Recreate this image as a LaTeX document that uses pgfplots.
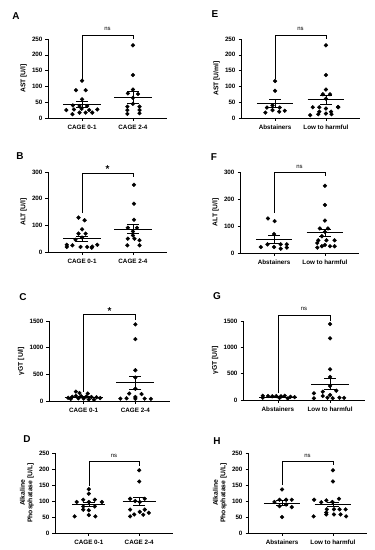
\documentclass[border=0pt]{standalone}
\usepackage{pgfplots}
\pgfplotsset{compat=1.18}
\usepackage{fontspec}
\setmainfont{Liberation Sans}
\tikzset{br/.style={line width=0.5pt, black}}
\pgfplotsset{
  panel/.style={
    scale only axis, anchor=south west,
    xmin=-0.67, xmax=1.67, ymin=0,
    axis x line*=bottom, axis y line*=left,
    axis line style={line width=0.7pt,-},
    tick align=outside, major tick length=2.5bp,
    tick style={black, line width=0.6pt},
    xtick={0,1},
    /pgf/number format/assume math mode=true,
    /pgf/number format/1000 sep={},
    tick label style={font=\fontsize{6.3}{7}\selectfont\bfseries},
    yticklabel style={xshift=0.5bp},
    label style={font=\fontsize{6.8}{7.5}\selectfont\bfseries},
    ylabel style={align=center, yshift=-1.5bp},
    xticklabel style={yshift=-1bp},
    clip=false,
  },
  dots/.style={only marks, mark=*, mark size=1.9bp, black},
  meanl/.style={black, line width=0.55pt},
  sem/.style={black, line width=0.55pt, mark=none, error bars/.cd, y dir=both, y explicit, error mark=-, error mark options={black, line width=0.55pt, mark size=6bp, rotate=90}},
}
\newcommand{\lbl}[3]{\node[font=\fontsize{10}{10}\selectfont\bfseries] at (#1bp,-#2bp) {#3};}
\newcommand{\ns}{\fontsize{6}{6}\selectfont}
\begin{document}
\begin{tikzpicture}
\path[use as bounding box] (0,0) rectangle (375bp,-550bp);
\lbl{16}{16}{A}
\lbl{215}{14}{E}
\lbl{20}{156}{B}
\lbl{214}{157}{F}
\lbl{23}{297}{C}
\lbl{217}{296}{G}
\lbl{27}{439}{D}
\lbl{217}{441}{H}
% ---------- A
\begin{axis}[panel, at={(48bp,-118bp)}, width=119bp, height=79bp, ymax=250, ytick={0,50,100,150,200,250},
  xticklabels={CAGE 0-1, CAGE 2-4}, ylabel={AST [U/l]}]
\addplot[dots] coordinates {(0,118) (-0.12,88) (0.07,88) (0,59) (-0.18,40) (-0.05,38) (0.10,38) (-0.31,25) (-0.16,27) (-0.01,29) (0.14,25) (0.30,27) (-0.19,12) (-0.05,17) (0.07,17) (0.20,17)};
\addplot[dots] coordinates {(1,230) (1,136) (1,90) (0.90,78) (1.10,76) (1,64) (0.89,36) (1.13,36) (0.89,25) (1.13,25) (0.89,13) (1.13,15) (1,45)};
\addplot[meanl] coordinates {(-0.37,44) (0.37,44)};
\addplot[meanl] coordinates {(0.63,66) (1.37,66)};
\addplot[sem] coordinates {(0,44) +- (0,10)};
\addplot[sem] coordinates {(1,66) +- (0,18)};
\draw[br] (axis cs:0,122) |- (axis cs:1,263) -- (axis cs:1,250);
\node[font=\ns] at (axis cs:0.5,281) {ns};
\end{axis}
% ---------- E
\begin{axis}[panel, at={(241bp,-118bp)}, width=119bp, height=79bp, ymax=250, ytick={0,50,100,150,200,250},
  xticklabels={Abstainers, Low to harmful}, ylabel={AST [U/ml]}]
\addplot[dots] coordinates {(0,117) (0,86) (-0.05,40) (-0.16,33) (0.09,33) (-0.05,25) (-0.19,17) (0.08,20) (0.19,23)};
\addplot[dots] coordinates {(1,230) (1,136) (1,90) (0.94,75) (1.08,75) (1,61) (0.74,34) (0.87,34) (1.0,30) (1.24,34) (0.87,20) (1.1,20) (0.69,9) (0.85,12) (1.0,14) (1.11,12) (1.24,35)};
\addplot[meanl] coordinates {(-0.36,47) (0.36,47)};
\addplot[meanl] coordinates {(0.64,58) (1.36,58)};
\addplot[sem] coordinates {(0,47) +- (0,12)};
\addplot[sem] coordinates {(1,58) +- (0,14)};
\draw[br] (axis cs:0,123) |- (axis cs:1,263) -- (axis cs:1,250);
\node[font=\ns] at (axis cs:0.5,281) {ns};
\end{axis}
% ---------- B
\begin{axis}[panel, at={(48bp,-252bp)}, width=119bp, height=80bp, ymax=300, ytick={0,100,200,300},
  xticklabels={CAGE 0-1, CAGE 2-4}, ylabel={ALT [U/l]}]
\addplot[dots] coordinates {(-0.07,129) (0.05,119) (0,85) (-0.07,69) (0.07,69) (0,54) (-0.13,46) (-0.30,27) (-0.19,25) (-0.03,19) (0.10,19) (0.20,20) (0.30,27) (-0.30,19) (0.19,16)};
\addplot[dots] coordinates {(1.02,252) (1.02,181) (1.02,121) (0.90,91) (1.08,91) (1.0,77) (0.9,50) (1.03,50) (1.13,44) (0.89,25) (1.13,25) (1.0,62)};
\addplot[meanl] coordinates {(-0.37,50) (0.37,50)};
\addplot[meanl] coordinates {(0.63,86) (1.37,86)};
\addplot[sem] coordinates {(0,50) +- (0,9)};
\addplot[sem] coordinates {(1,86) +- (0,17)};
\draw[br] (axis cs:0,146) |- (axis cs:1,296) -- (axis cs:1,281);
\node[font=\fontsize{10}{10}\selectfont\bfseries] at (axis cs:0.5,310) {*};
\end{axis}
% ---------- F
\begin{axis}[panel, at={(240bp,-253bp)}, width=119bp, height=81bp, ymax=300, ytick={0,100,200,300},
  xticklabels={Abstainers, Low to harmful}, ylabel={ALT [U/l]}]
\addplot[dots] coordinates {(-0.12,128) (0.01,118) (0,70) (-0.13,32) (0.13,32) (-0.26,22) (0,22) (0.13,16) (0.25,32) (0.25,20)};
\addplot[dots] coordinates {(1,249) (1,178) (1,120) (0.9,91) (1.06,91) (1.0,78) (0.94,62) (0.87,47) (1.03,47) (1.19,47) (0.85,37) (0.85,20) (0.94,25) (1.1,25) (1.19,25) (1.0,30)};
\addplot[meanl] coordinates {(-0.36,51) (0.36,51)};
\addplot[meanl] coordinates {(0.64,75) (1.36,75)};
\addplot[sem] coordinates {(0,51) +- (0,14)};
\addplot[sem] coordinates {(1,75) +- (0,13)};
\draw[br] (axis cs:0,150) |- (axis cs:1,300) -- (axis cs:1,285);
\node[font=\ns] at (axis cs:0.5,317) {ns};
\end{axis}
% ---------- C
\begin{axis}[panel, at={(49bp,-401bp)}, width=121bp, height=80bp, ymax=1500, ytick={0,500,1000,1500},
  xticklabels={CAGE 0-1, CAGE 2-4}, ylabel={γGT [U/l]}]
\addplot[dots] coordinates {(-0.15,175) (-0.08,150) (0.08,140) (-0.3,60) (-0.22,80) (-0.15,95) (-0.05,90) (0.05,85) (0.15,75) (0.25,70) (0.32,55) (-0.25,40) (-0.1,50) (0.0,45) (0.1,30) (0.2,25)};
\addplot[dots] coordinates {(1,1437) (1,1161) (1,577) (1,440) (1.0,230) (0.88,140) (1.12,130) (1.0,75) (0.71,45) (0.83,50) (1.0,40) (1.18,45) (1.3,40)};
\addplot[meanl] coordinates {(-0.37,75) (0.37,75)};
\addplot[meanl] coordinates {(0.63,345) (1.37,345)};
\addplot[sem] coordinates {(0,75) +- (0,12)};
\addplot[sem] coordinates {(1,345) +- (0,125)};
\draw[br] (axis cs:0,170) |- (axis cs:1,1630) -- (axis cs:1,1520);
\node[font=\fontsize{10}{10}\selectfont\bfseries] at (axis cs:0.5,1690) {*};
\end{axis}
% ---------- G
\begin{axis}[panel, at={(243bp,-400bp)}, width=122bp, height=79bp, ymax=1500, ytick={0,500,1000,1500},
  xticklabels={Abstainers, Low to harmful}, ylabel={γGT [U/l]}]
\addplot[dots] coordinates {(-0.29,80) (-0.19,75) (-0.11,70) (-0.03,75) (0.06,70) (0.13,80) (0.24,60) (-0.29,45) (0.03,40) (0.19,30) (0.32,55)};
\addplot[dots] coordinates {(1,1443) (1,1171) (1,582) (1,437) (1,266) (0.86,158) (1.12,177) (0.69,127) (0.86,76) (1.0,95) (0.69,32) (0.95,44) (1.05,35) (1.18,44) (1.27,40)};
\addplot[meanl] coordinates {(-0.36,60) (0.36,60)};
\addplot[meanl] coordinates {(0.64,304) (1.36,304)};
\addplot[sem] coordinates {(0,60) +- (0,8)};
\addplot[sem] coordinates {(1,304) +- (0,100)};
\draw[br] (axis cs:0,130) |- (axis cs:1,1610) -- (axis cs:1,1500);
\node[font=\ns] at (axis cs:0.5,1720) {ns};
\end{axis}
% ---------- D
\begin{axis}[panel, at={(55bp,-533bp)}, width=118bp, height=80bp, ymax=250, ytick={0,50,100,150,200,250},
  xticklabels={CAGE 0-1, CAGE 2-4}, ylabel={Alkaline\\Phosphatase [U/L]}]
\addplot[dots] coordinates {(0,137) (0,123) (-0.11,104) (0.12,104) (-0.24,97) (0,97) (0.26,97) (-0.11,83) (0.12,83) (0,71) (-0.11,73) (-0.28,52) (0,56) (0.13,52)};
\addplot[dots] coordinates {(1,196) (1,161) (0.82,107) (1.11,107) (0.92,100) (1.01,97) (0.82,73) (1.11,73) (1.01,66) (1.19,63) (0.82,52) (0.9,58) (1.08,57)};
\addplot[meanl] coordinates {(-0.33,89) (0.33,89)};
\addplot[meanl] coordinates {(0.67,99) (1.33,99)};
\addplot[sem] coordinates {(0,89) +- (0,7)};
\addplot[sem] coordinates {(1,99) +- (0,12)};
\draw[br] (axis cs:0,147) |- (axis cs:1,225) -- (axis cs:1,209);
\node[font=\ns] at (axis cs:0.5,240) {ns};
\end{axis}
% ---------- H
\begin{axis}[panel, at={(248bp,-533bp)}, width=119bp, height=80bp, ymax=250, ytick={0,50,100,150,200,250},
  xticklabels={Abstainers, Low to harmful}, ylabel={Alkaline\\Phosphatase [U/L]}]
\addplot[dots] coordinates {(0,136) (-0.05,104) (0.08,104) (0.19,104) (-0.15,97) (0.08,89) (0.19,81) (-0.05,84) (0,50)};
\addplot[dots] coordinates {(1,196) (1,161) (0.63,104) (0.87,102) (1.12,107) (0.77,96) (0.99,97) (0.88,74) (1.02,74) (1.13,74) (1.25,74) (0.87,64) (0.62,52) (0.87,58) (1.02,58) (1.15,58) (1.26,52)};
\addplot[meanl] coordinates {(-0.36,94) (0.36,94)};
\addplot[meanl] coordinates {(0.64,89) (1.36,89)};
\addplot[sem] coordinates {(0,94) +- (0,8)};
\addplot[sem] coordinates {(1,89) +- (0,7)};
\draw[br] (axis cs:0,150) |- (axis cs:1,225) -- (axis cs:1,212);
\node[font=\ns] at (axis cs:0.5,240) {ns};
\end{axis}
\end{tikzpicture}
\end{document}
